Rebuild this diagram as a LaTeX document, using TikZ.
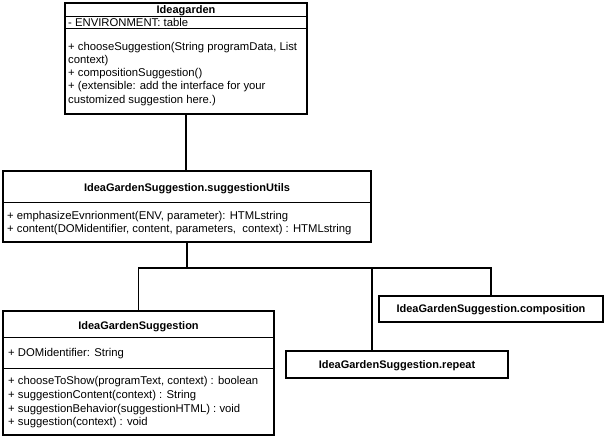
\documentclass[tikz,border=0pt]{standalone}
\usepackage{fontspec}
\setmainfont{Liberation Sans}
\begin{document}
\begin{tikzpicture}[x=1pt,y=-1pt,
  box/.style={draw=black,line width=1.3pt,inner sep=0},
  sep/.style={line width=1.3pt},
  thinsep/.style={line width=0.9pt},
  txt/.style={font=\fontsize{11.3}{13}\selectfont,inner sep=0,text height=8.5pt,text depth=1.5pt,anchor=west},
  ttl/.style={font=\bfseries\fontsize{11}{13}\selectfont,inner sep=0,text height=8.5pt,text depth=1.5pt},
  conn/.style={line width=1.2pt}]
\useasboundingbox (0,0) rectangle (605,438);
\fill[white] (0,0) rectangle (605,438);

% boxes
\node[box,line width=1.6pt,minimum width=242pt,minimum height=111pt] (ig) at (186,58.5) {};
\node[box,minimum width=368pt,minimum height=71pt] (utils) at (187,206.5) {};
\node[box,minimum width=271pt,minimum height=124pt] (sugg) at (138.5,373) {};
\node[box,minimum width=224pt,minimum height=26pt] (comp) at (491,309) {};
\node[box,minimum width=222pt,minimum height=27pt] (rep) at (397,364.5) {};

% separators
\draw[sep] ([yshift=-14pt]ig.north west) -- ([yshift=-14pt]ig.north east);
\draw[sep] ([yshift=-26pt]ig.north west) -- ([yshift=-26pt]ig.north east);
\draw[thinsep] ([yshift=-32pt]utils.north west) -- ([yshift=-32pt]utils.north east);
\draw[sep] ([yshift=-27pt]sugg.north west) -- ([yshift=-27pt]sugg.north east);
\draw[sep] ([yshift=-58pt]sugg.north west) -- ([yshift=-58pt]sugg.north east);

% Ideagarden texts
\node[ttl] (igt) at (186,10) {Ideagarden};
\node[txt] (iga) at (68,23) {- ENVIRONMENT: table};
\node[txt] (igm1) at (68,47) {+ chooseSuggestion(String programData, List};
\node[txt] (igm2) at (68,60) {context)};
\node[txt] (igm3) at (68,73) {+ compositionSuggestion()};
\node[txt] (igm4) at (68,86) {+ (extensible: add the interface for your};
\node[txt] (igm5) at (68,100) {customized suggestion here.)};

% utils texts
\node[ttl] (ut) at (187,188) {IdeaGardenSuggestion.suggestionUtils};
\node[txt] (um1) at (7,216) {+ emphasizeEvnrionment(ENV, parameter): HTMLstring};
\node[txt] (um2) at (7,229) {+ content(DOMidentifier, content, parameters,~ context) : HTMLstring};

% suggestion texts
\node[ttl] (st) at (138.5,326) {IdeaGardenSuggestion};
\node[txt] (sa) at (8,353) {+ DOMidentifier: String};
\node[txt] (sm1) at (8,381) {+ chooseToShow(programText, context) : boolean};
\node[txt] (sm2) at (8,395) {+ suggestionContent(context) : String};
\node[txt] (sm3) at (8,409) {+ suggestionBehavior(suggestionHTML) : void};
\node[txt] (sm4) at (8,422) {+ suggestion(context) : void};

% other titles
\node[ttl] (ct) at (491,309) {IdeaGardenSuggestion.composition};
\node[ttl] (rt) at (397,365) {IdeaGardenSuggestion.repeat};

% connectors
\draw[conn] (ig.south) -- (ig.south |- utils.north);
\coordinate (j) at (187,268);
\draw[conn] (utils.south) -- (j);
\draw[conn] (j) -| (sugg.north);
\draw[conn] (j) -| (comp.north);
\coordinate (rtop) at ([xshift=-25pt]rep.north);
\draw[conn] (j) -| (rtop);
\end{tikzpicture}
\end{document}
